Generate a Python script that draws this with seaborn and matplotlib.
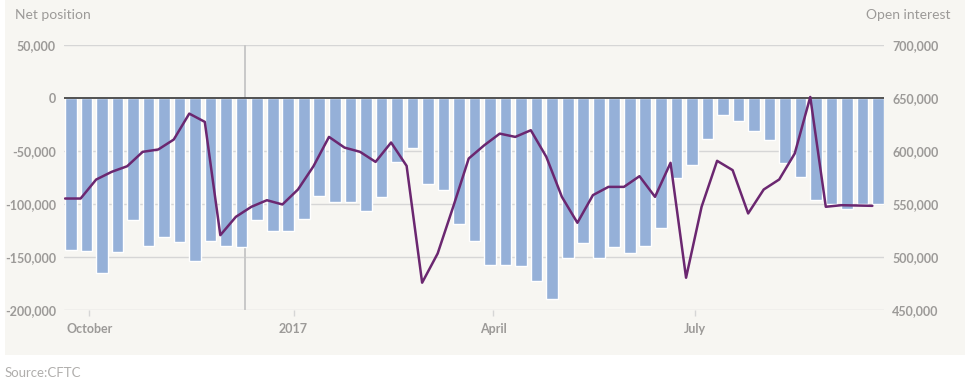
import numpy as np
import pandas as pd
import matplotlib
matplotlib.use("Agg")
import matplotlib.pyplot as plt
from matplotlib.patches import Rectangle
from matplotlib.ticker import FuncFormatter
import seaborn as sns

# Weekly CFTC data (Tuesdays), starting 2016-09-20
start_date = "2016-09-20"
net_position = [
    -143.7, -144.7, -165.0, -145.6, -115.4, -140.0, -131.5, -136.2, -154.0, -134.9,
    -139.6, -140.6, -115.4, -125.5, -125.5, -114.2, -92.5, -98.1, -98.1, -106.6,
    -93.4, -60.4, -47.2, -81.1, -86.8, -118.9, -134.9, -157.6, -157.6, -158.5,
    -172.7, -189.6, -151.0, -136.8, -151.0, -140.6, -146.2, -139.6, -122.7, -75.5,
    -63.2, -38.7, -16.0, -21.7, -31.1, -39.6, -61.3, -74.5, -96.2, -100.3,
    -104.7, -100.3, -100.3,
]
open_interest = [
    555.0, 555.0, 572.9, 580.2, 585.5, 599.1, 601.3, 610.7, 635.2, 627.4,
    520.4, 537.7, 547.2, 553.4, 549.4, 563.5, 585.5, 613.2, 603.1, 599.1,
    589.6, 607.9, 585.8, 475.5, 503.1, 547.2, 592.8, 605.3, 616.3, 613.2,
    619.5, 594.3, 556.6, 532.1, 558.2, 566.0, 566.0, 576.1, 556.6, 588.7,
    480.2, 547.2, 590.6, 581.8, 540.9, 563.5, 573.0, 597.5, 650.9, 547.2,
    548.7, 548.4, 548.1,
]
tick_dates = ["2016-10-01", "2017-01-01", "2017-04-01", "2017-07-01"]
tick_labels = ["October", "2017", "April", "July"]
marker_date = "2016-12-10"

left_ticks = [50000, 0, -50000, -100000, -150000, -200000]
right_ticks = [700000, 650000, 600000, 550000, 500000, 450000]

BG = "#f7f6f2"
BAR = "#95b0d8"
LINE = "#6b2770"
GRID = "#d6d6d6"
TXT = "#9c9a98"

sns.set_style("white")
plt.rcParams["font.family"] = ["Lato", "DejaVu Sans"]

start = pd.Timestamp(start_date)
weeks = np.arange(len(net_position))
df = pd.DataFrame({
    "week": weeks,
    "net": np.array(net_position) * 1000,
    "oi": np.array(open_interest) * 1000,
})
bar_width = 0.75
df["bar_x"] = df["week"] + bar_width / 2

def to_week(d):
    return (pd.Timestamp(d) - start).days / 7.0

fig = plt.figure(figsize=(9.65, 3.87), dpi=100)
fig.patch.set_facecolor("white")
fig.patches.append(Rectangle((5 / 965, 1 - 355 / 387), 1, 355 / 387,
                             transform=fig.transFigure, facecolor=BG,
                             edgecolor="none", zorder=-10))

ax = fig.add_axes([64.3 / 965, 1 - 309.7 / 387, (884 - 64.3) / 965, (309.7 - 45) / 387])
ax.set_facecolor(BG)

sns.barplot(data=df, x="bar_x", y="net", native_scale=True, width=bar_width,
            color=BAR, saturation=1, ax=ax, zorder=2)

ax.set_ylim(-200000, 50000)
ax.set_xlim(-0.05, len(net_position) - 1 + bar_width)
ax.set_yticks(left_ticks)
ax.yaxis.set_major_formatter(FuncFormatter(lambda v, p: f"{v:,.0f}"))
for y in left_ticks:
    if y != 0:
        ax.axhline(y, color=GRID, lw=1.0, zorder=0.5)
ax.axhline(0, color="#444444", lw=1.3, zorder=3)
ax.axvline(to_week(marker_date), color="#c8c8c8", lw=1.4, zorder=0.6)

ax.set_xticks([to_week(d) for d in tick_dates])
ax.set_xticklabels(tick_labels)
ax.tick_params(axis="x", length=4.5, width=1, color=GRID, pad=5,
               labelsize=9, labelcolor=TXT, direction="out", bottom=True)
ax.tick_params(axis="y", length=0, pad=6, labelsize=9, labelcolor=TXT)
for lab in ax.get_xticklabels() + ax.get_yticklabels():
    lab.set_fontweight("bold")
ax.set_xlabel("")
ax.set_ylabel("")
for s in ax.spines.values():
    s.set_visible(False)

ax2 = ax.twinx()
sns.lineplot(data=df, x="week", y="oi", color=LINE, lw=1.8, ax=ax2, zorder=4)
ax2.set_ylim(450000, 700000)
ax2.set_xlim(ax.get_xlim())
ax2.set_yticks(right_ticks)
ax2.yaxis.set_major_formatter(FuncFormatter(lambda v, p: f"{v:,.0f}"))
ax2.tick_params(axis="y", length=0, pad=6, labelsize=9, labelcolor=TXT)
for lab in ax2.get_yticklabels():
    lab.set_fontweight("bold")
ax2.set_xlabel("")
ax2.set_ylabel("")
for s in ax2.spines.values():
    s.set_visible(False)

fig.text(15 / 965, 1 - 15 / 387, "Net position", fontsize=10, color=TXT,
         ha="left", va="center")
fig.text(950 / 965, 1 - 15 / 387, "Open interest", fontsize=10, color=TXT,
         ha="right", va="center")
fig.text(5 / 965, 1 - 373 / 387, "Source:CFTC", fontsize=9.5, color="#b0aeac",
         ha="left", va="center")

fig.savefig("out.png", dpi=100, facecolor="white")
